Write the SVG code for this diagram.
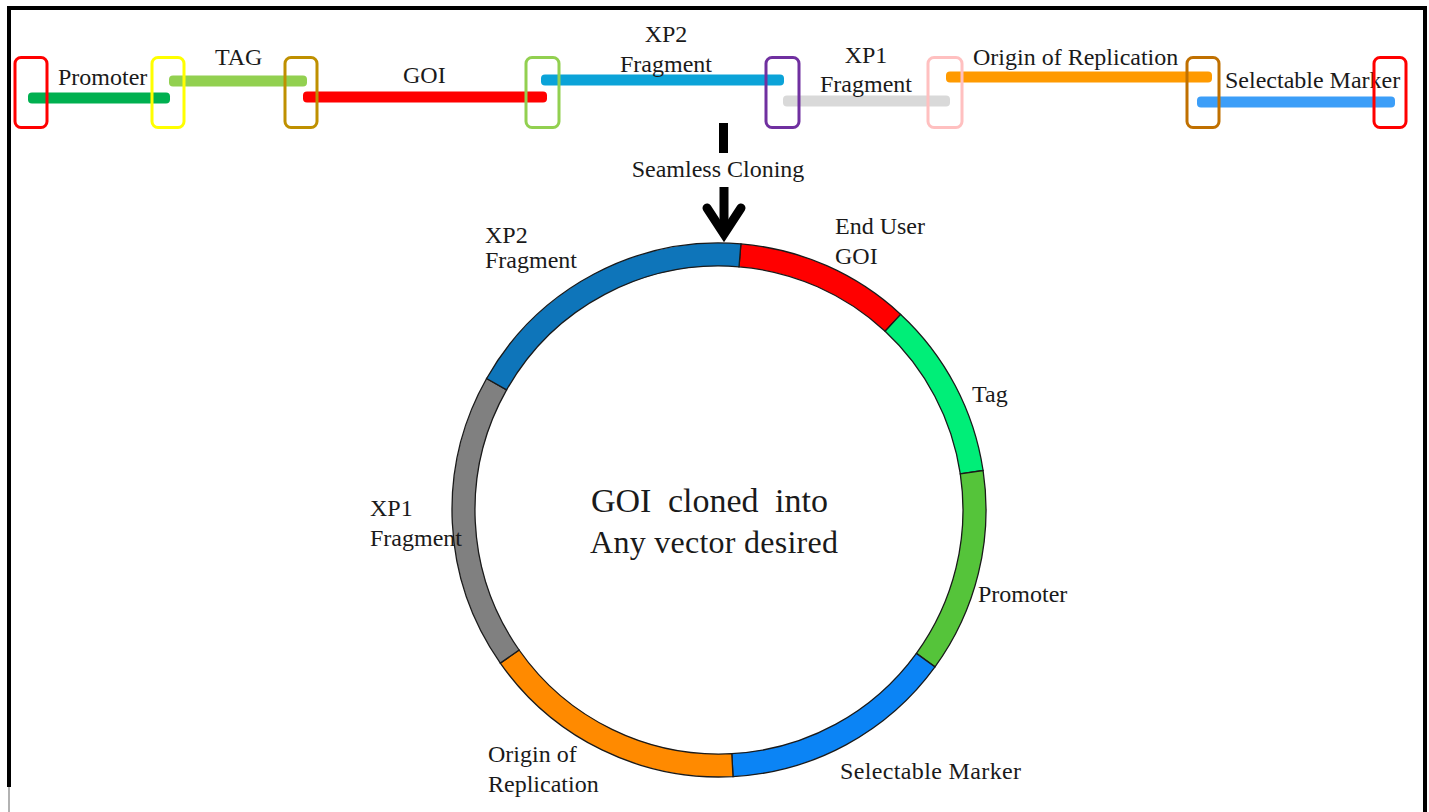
<svg xmlns="http://www.w3.org/2000/svg" width="1429" height="812" viewBox="0 0 1429 812">
<style>
text{font-family:"Liberation Serif","Times New Roman",serif;font-size:24px;fill:#1a1a1a}
.big{font-size:32px}
.big2{font-size:34px;word-spacing:8px}
.bar{stroke:none}
.box{fill:none;stroke-width:3}
.seg{stroke:#1a1a1a;stroke-width:1.3}
</style>
<rect width="1429" height="812" fill="#ffffff"/>
<g id="frame">
<path d="M9,787 L9,8 L1425,8 L1425,812" fill="none" stroke="#000" stroke-width="4"/>
<line x1="9" y1="787" x2="9" y2="812" stroke="#999" stroke-width="1.5"/>
</g>
<g id="linear-fragments">
<g id="bar-promoter"><rect class="bar" x="28" y="92.5" width="142" height="11" rx="4" fill="#00B050"/><text x="58" y="85">Promoter</text></g>
<g id="bar-tag"><rect class="bar" x="169" y="75.5" width="138" height="11" rx="4" fill="#92D050"/><text x="215" y="65">TAG</text></g>
<g id="bar-goi"><rect class="bar" x="303" y="91.5" width="244" height="11" rx="4" fill="#FF0000"/><text x="403" y="83">GOI</text></g>
<g id="bar-xp2"><rect class="bar" x="541" y="74.5" width="243" height="11" rx="4" fill="#0BA3D8"/><text x="666" y="42" text-anchor="middle">XP2</text><text x="666" y="72" text-anchor="middle">Fragment</text></g>
<g id="bar-xp1"><rect class="bar" x="783" y="95.5" width="167" height="11" rx="4" fill="#D9D9D9"/><text x="866" y="63" text-anchor="middle">XP1</text><text x="866" y="92" text-anchor="middle">Fragment</text></g>
<g id="bar-origin"><rect class="bar" x="946" y="71.5" width="266" height="11" rx="4" fill="#FF9A00"/><text x="973" y="65">Origin  of Replication</text></g>
<g id="bar-marker"><rect class="bar" x="1197" y="96.5" width="198" height="11" rx="4" fill="#3C9EF8"/><text x="1225" y="88">Selectable  Marker</text></g>
<g id="junction-boxes">
<rect class="box" x="15" y="57.5" width="32" height="70" rx="6" stroke="#FF0000"/>
<rect class="box" x="152" y="57.5" width="32" height="70" rx="6" stroke="#FFFF00"/>
<rect class="box" x="285" y="57.5" width="32" height="70" rx="6" stroke="#BF9000"/>
<rect class="box" x="526" y="57.5" width="33" height="70" rx="6" stroke="#92D050"/>
<rect class="box" x="766" y="57.5" width="33" height="70" rx="6" stroke="#7030A0"/>
<rect class="box" x="928" y="57.5" width="34" height="70" rx="6" stroke="#FFC0C0"/>
<rect class="box" x="1187" y="57.5" width="32" height="70" rx="6" stroke="#C07000"/>
<rect class="box" x="1374" y="57.5" width="32" height="70" rx="6" stroke="#FF0000"/>
</g>
</g>
<g id="connectors">
<rect x="719" y="123" width="9" height="30" fill="#000"/>
<text x="718" y="177" text-anchor="middle">Seamless Cloning</text>
<line x1="724" y1="187" x2="724" y2="230" stroke="#000" stroke-width="9"/>
<polyline points="707,208 724,234 741,208" fill="none" stroke="#000" stroke-width="9" stroke-linecap="round" stroke-linejoin="miter"/>
</g>
<g id="plasmid">
<g id="seg-goi"><path class="seg" fill="#FF0000" d="M740.9,243.9 A267,267 0 0 1 900.7,314.4 L885.1,331.3 A244,244 0 0 0 739.0,266.8 Z"/><text x="835" y="234">End User</text><text x="835" y="264">GOI</text></g>
<g id="seg-tag"><path class="seg" fill="#00EE78" d="M900.7,314.4 A267,267 0 0 1 983.1,470.5 L960.3,473.9 A244,244 0 0 0 885.1,331.3 Z"/><text x="972" y="402">Tag</text></g>
<g id="seg-promoter"><path class="seg" fill="#55C43A" d="M983.1,470.5 A267,267 0 0 1 935.0,666.9 L916.4,653.4 A244,244 0 0 0 960.3,473.9 Z"/><text x="978" y="602">Promoter</text></g>
<g id="seg-marker"><path class="seg" fill="#0B84F5" d="M935.0,666.9 A267,267 0 0 1 733.0,776.6 L731.8,753.7 A244,244 0 0 0 916.4,653.4 Z"/><text x="840" y="779" textLength="181" lengthAdjust="spacing">Selectable Marker</text></g>
<g id="seg-origin"><path class="seg" fill="#FF8A00" d="M733.0,776.6 A267,267 0 0 1 500.3,663.1 L519.1,650.0 A244,244 0 0 0 731.8,753.7 Z"/><text x="488" y="762">Origin of</text><text x="488" y="792">Replication</text></g>
<g id="seg-xp1"><path class="seg" fill="#808080" d="M500.3,663.1 A267,267 0 0 1 486.6,378.5 L506.6,389.9 A244,244 0 0 0 519.1,650.0 Z"/><text x="370" y="516">XP1</text><text x="370" y="546">Fragment</text></g>
<g id="seg-xp2"><path class="seg" fill="#0E75BA" d="M486.6,378.5 A267,267 0 0 1 740.9,243.9 L739.0,266.8 A244,244 0 0 0 506.6,389.9 Z"/><text x="485" y="243">XP2</text><text x="485" y="268">Fragment</text></g>
<g id="center-label"><text class="big2" x="591" y="512">GOI cloned into</text><text class="big" x="590" y="553" textLength="248" lengthAdjust="spacing">Any vector desired</text></g>
</g>
</svg>
